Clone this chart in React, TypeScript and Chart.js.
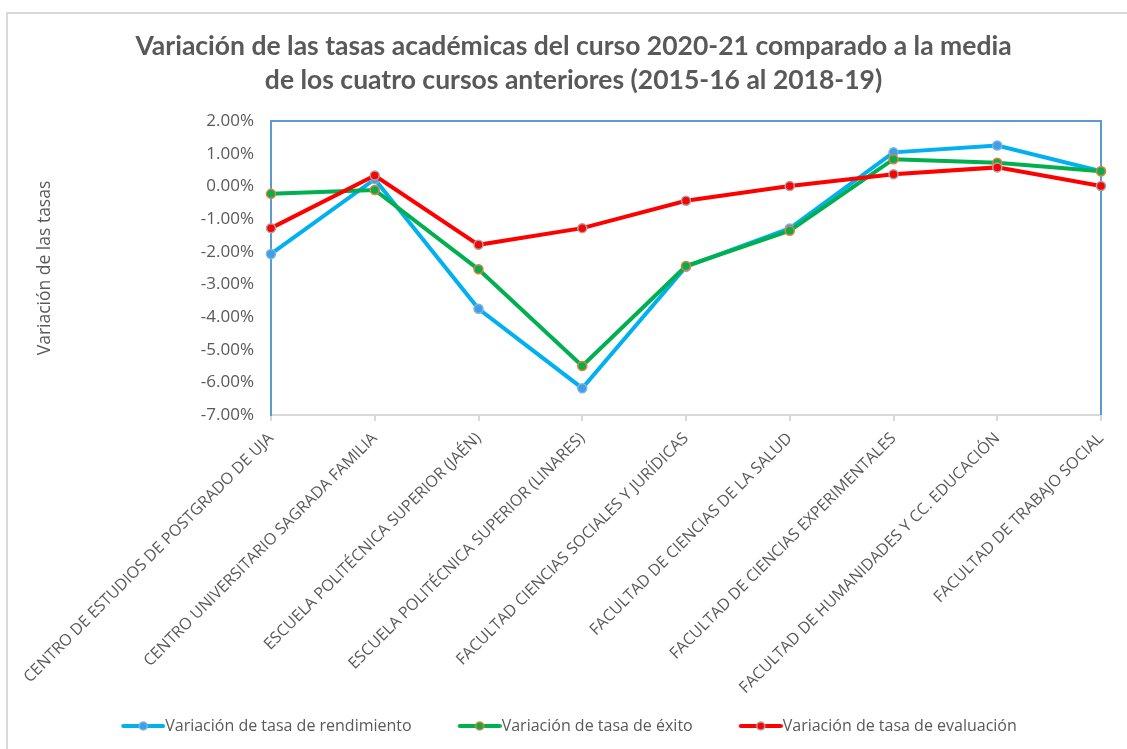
import React, { useEffect, useRef } from "react";
import { Chart, registerables } from "chart.js";

Chart.register(...registerables);

const categories = [
  "CENTRO DE ESTUDIOS DE POSTGRADO DE UJA",
  "CENTRO UNIVERSITARIO SAGRADA FAMILIA",
  "ESCUELA POLITÉCNICA SUPERIOR (JAÉN)",
  "ESCUELA POLITÉCNICA SUPERIOR (LINARES)",
  "FACULTAD CIENCIAS SOCIALES Y JURÍDICAS",
  "FACULTAD DE CIENCIAS DE LA SALUD",
  "FACULTAD DE CIENCIAS EXPERIMENTALES",
  "FACULTAD DE HUMANIDADES Y CC. EDUCACIÓN",
  "FACULTAD DE TRABAJO SOCIAL",
];

const rendimiento = [-2.07, 0.22, -3.75, -6.18, -2.46, -1.29, 1.04, 1.25, 0.46];
const exito = [-0.23, -0.11, -2.54, -5.5, -2.44, -1.36, 0.83, 0.72, 0.46];
const evaluacion = [-1.28, 0.33, -1.79, -1.28, -0.44, 0.01, 0.37, 0.58, 0.01];

const yTicks = [-7, -6, -5, -4, -3, -2, -1, 0, 1, 2];

const seriesNames = [
  "Variación de tasa de rendimiento",
  "Variación de tasa de éxito",
  "Variación de tasa de evaluación",
];

const titleLines = [
  "Variación de las tasas académicas del curso 2020-21 comparado a la media",
  "de los cuatro cursos anteriores (2015-16 al 2018-19)",
];

const TITLE_FONT = "Lato, 'Open Sans', sans-serif";
const FONT = "'Open Sans', Lato, sans-serif";
const TEXT = "#595959";

const BLUE = "#00B0F0";
const GREEN = "#00B050";
const RED = "#FF0000";

const LEG_FONT = 16;
const LEG_B = 65;
const LEG_PAD = 17;

function makeLegendImg(line: string, fill: string, border: string) {
  const W = LEG_B + LEG_FONT;
  const c = document.createElement("canvas");
  c.width = W;
  c.height = 14;
  const ctx = c.getContext("2d")!;
  ctx.strokeStyle = line;
  ctx.lineWidth = 4;
  ctx.lineCap = "round";
  ctx.beginPath();
  ctx.moveTo(W - 42, 7);
  ctx.lineTo(W - 2, 7);
  ctx.stroke();
  ctx.beginPath();
  ctx.arc(W - 22, 7, 4, 0, Math.PI * 2);
  ctx.fillStyle = fill;
  ctx.fill();
  ctx.lineWidth = 1.5;
  ctx.strokeStyle = border;
  ctx.stroke();
  return c;
}

export default function App() {
  const ref = useRef<HTMLCanvasElement>(null);

  useEffect(() => {
    if (!ref.current) return;
    const imgs = [
      makeLegendImg(BLUE, "#3E9FE6", "#7DB3E3"),
      makeLegendImg(GREEN, GREEN, "#ED7D31"),
      makeLegendImg(RED, RED, "#A5A5A5"),
    ];

    const framePlugin = {
      id: "frame",
      beforeDraw(chart: any) {
        const ctx = chart.ctx;
        ctx.save();
        ctx.fillStyle = "#ffffff";
        ctx.fillRect(0, 0, chart.width, chart.height);
        ctx.strokeStyle = "#D9D9D9";
        ctx.lineWidth = 2;
        ctx.beginPath();
        ctx.moveTo(7, chart.height);
        ctx.lineTo(7, 13);
        ctx.lineTo(chart.width, 13);
        ctx.stroke();
        ctx.restore();
      },
      beforeDatasetsDraw(chart: any) {
        const { left, right, top, bottom } = chart.chartArea;
        const ctx = chart.ctx;
        ctx.save();
        ctx.strokeStyle = "#5B9BD5";
        ctx.lineWidth = 2;
        ctx.beginPath();
        ctx.moveTo(left, top);
        ctx.lineTo(right, top);
        ctx.lineTo(right, bottom);
        ctx.stroke();
        ctx.restore();
      },
    };

    const mk = (label: string, data: number[], color: string, pbg: string, pbd: string, order: number) => ({
      label,
      data,
      borderColor: color,
      backgroundColor: color,
      borderWidth: 4,
      pointRadius: 4.5,
      pointBorderWidth: 1.5,
      pointBackgroundColor: pbg,
      pointBorderColor: pbd,
      tension: 0,
      order,
    });

    // leading space nudges the centred title to the reference's position
    const titleText = titleLines.map((t) => "\u2003\u2002\u2009\u200A" + t);

    const chart = new Chart(ref.current, {
      type: "line",
      data: {
        labels: categories,
        datasets: [
          mk(seriesNames[0], rendimiento, BLUE, "#3E9FE6", "#7DB3E3", 3),
          mk(seriesNames[1], exito, GREEN, GREEN, "#ED7D31", 2),
          mk(seriesNames[2], evaluacion, RED, RED, "#A5A5A5", 1),
        ],
      },
      plugins: [framePlugin],
      options: {
        animation: false,
        responsive: false,
        layout: { padding: { left: 8, right: 26, top: 0, bottom: 5 } },
        plugins: {
          title: {
            display: true,
            text: titleText,
            color: TEXT,
            font: { family: TITLE_FONT, size: 26.5, weight: "bold", lineHeight: 34 / 26.5 },
            padding: { top: 29, bottom: 24 },
          },
          legend: {
            position: "bottom",
            labels: {
              usePointStyle: true,
              pointStyleWidth: LEG_B,
              padding: LEG_PAD,
              color: TEXT,
              font: { family: FONT, size: LEG_FONT },
              sort: (a: any, b: any) => a.datasetIndex - b.datasetIndex,
              generateLabels: (ch: any) => {
                const items = Chart.defaults.plugins.legend.labels.generateLabels(ch);
                return items.map((it: any) => ({ ...it, pointStyle: imgs[it.datasetIndex] }));
              },
            },
          },
          tooltip: { enabled: false },
        },
        scales: {
          x: {
            offset: false,
            grid: {
              display: true,
              drawOnChartArea: false,
              drawTicks: true,
              tickLength: 6,
              color: "#D9D9D9",
              lineWidth: 2,
            },
            border: { display: true, color: "#D9D9D9", width: 2 },
            ticks: {
              autoSkip: false,
              maxRotation: 45,
              minRotation: 45,
              color: TEXT,
              padding: 8,
              font: { family: FONT, size: 16 },
            },
            afterFit: (s: any) => {
              s.height = 286;
            },
          },
          y: {
            min: -7,
            max: 2,
            afterBuildTicks: (s: any) => {
              s.ticks = yTicks.map((v) => ({ value: v }));
            },
            grid: { display: false, drawTicks: false },
            border: { display: true, color: "#5B9BD5", width: 2 },
            ticks: {
              color: TEXT,
              padding: 17,
              font: { family: FONT, size: 17 },
              callback: (v: any) => Number(v).toFixed(2) + "%",
            },
            title: {
              display: true,
              text: "Variación de las tasas",
              color: TEXT,
              font: { family: FONT, size: 17.5 },
              padding: { top: 26.5, bottom: 0 },
            },
            afterFit: (s: any) => {
              s.width = 263;
            },
          },
        },
      },
    });
    return () => chart.destroy();
  }, []);

  return (
    <div style={{ position: "fixed", left: 0, top: 0, width: 1127, height: 749 }}>
      <canvas ref={ref} width={1127} height={749} style={{ display: "block" }} />
    </div>
  );
}
